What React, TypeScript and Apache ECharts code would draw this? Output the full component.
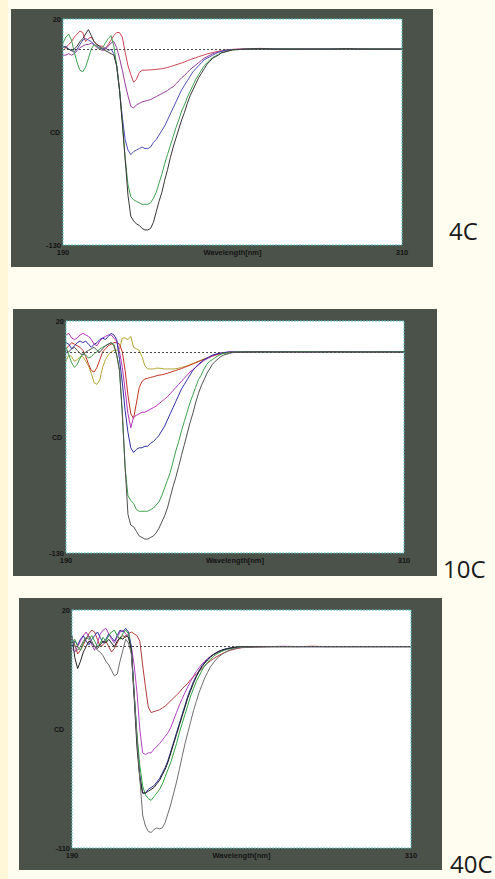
import React, { useEffect, useRef } from "react";
import * as echarts from "echarts";

// Wavelength samples (nm)
const WL = [
  190, 191, 192, 193, 194, 195, 196, 197, 198, 199,
  200, 201, 202, 203, 204, 205, 206, 207, 208, 209,
  210, 211, 212, 213, 214, 215, 216, 217, 218, 219,
  220, 221, 222, 223, 224, 225, 226, 227, 228, 229,
  230, 231, 232, 233, 234, 235, 236, 237, 238, 239,
  240, 241, 242, 243, 244, 245, 246, 247, 248, 249,
  250,
  255, 260, 265, 270, 275, 280, 285, 290, 295, 300, 305, 310,
];

const X_RANGE = [190, 310];
const Y_RANGE_4C = [-130, 20];
const Y_RANGE_10C = [-130, 20];
const Y_RANGE_40C = [-110, 20];
const TAGS = ["4C", "10C", "40C"];

// ---------- 4C ----------
const P1_RED = [
  -1, 1, 3, 5, 8, 10, 12, 11, 5, 7,
  8, 5, 3, 2, 2, 0, 3, 6, 9, 11,
  11, 8, -2, -11, -17, -22, -20, -15.5, -14, -14,
  -13.8, -13.8, -13.6, -13.4, -13.2, -13, -12.6, -12.2, -11.6, -11,
  -10.4, -9.8, -9.2, -8.5, -7.7, -7, -6.3, -5.7, -5, -4.4,
  -3.8, -3.2, -2.7, -2.2, -1.8, -1.4, -1, -0.8, -0.5, -0.3,
  -0.2,
  0.3, 0.5, 0.2, 0, 0, 0.2, 0, 0, 0.3, 0, 0.2, 0,
];
const P1_PURPLE = [
  -4, -4, -3, -4, -3, -1, 1, 2, 3, 3,
  4, 3, 1, 0, -1, 0, 2, 4, 5, 1,
  -6, -14, -23, -31, -38, -39, -37, -36, -35, -34.5,
  -34, -33.5, -32.5, -31.5, -30.5, -29.5, -28.5, -27.5, -26, -25,
  -23, -21, -19, -17.5, -15.5, -13.5, -12, -10.5, -9, -7.5,
  -6, -5, -4, -3, -2.5, -2, -1.5, -1, -0.6, -0.4,
  -0.2,
  0, 0.3, 0, 0, 0.2, 0, 0, 0, 0.2, 0, 0, 0,
];
const P1_BLUE = [
  1, 2, 0, -1, -2, 0, 3, 6, 7, 6,
  5, 3, 2, 1, 0, 1, -1, 0, -3, -11,
  -27, -45, -60, -67, -70, -68, -67, -66, -65, -66,
  -66, -65, -62, -60, -57, -54, -51, -47, -43, -39,
  -35, -31, -27, -24, -21, -18, -15, -13, -11, -9,
  -7, -6, -5, -4, -3, -2, -1.5, -1, -0.7, -0.5,
  -0.3,
  0, 0, 0.2, 0, 0, 0, 0.2, 0, 0, 0, 0, 0,
];
const P1_GREEN = [
  4, 8, 10, 6, -2, -9, -14, -15, -12, -6,
  0, 3, 2, 0, 1, 4, 7, 9, 2, -11,
  -27, -49, -72, -90, -98, -100, -101, -102, -103, -103,
  -103, -102, -99, -95, -89, -83, -76, -70, -64, -58,
  -52, -47, -41, -37, -32, -28, -24, -20, -17, -14,
  -11, -9, -7, -5.5, -4.5, -3.5, -2.5, -2, -1.5, -1,
  -0.5,
  0, 0, 0, 0.2, 0, 0, 0, 0, 0, 0.2, 0, 0,
];
const P1_BLACK = [
  2, 1, 0, -1, 0, 2, 5, 7, 10, 13,
  9, 5, 3, 2, 0, -1, -2, -3, -4, -11,
  -27, -49, -73, -97, -111, -114, -116, -117, -119, -120,
  -120, -119, -115, -108, -101, -95, -87, -80, -72, -65,
  -59, -53, -47, -42, -36, -31, -27, -23, -19, -16,
  -13, -10, -8, -6, -5, -4, -2.5, -2, -1.5, -1,
  -0.5,
  0, 0.3, 0, 0, 0, 0, 0, 0.3, 0, 0, 0, 0,
];

// ---------- 10C ----------
const P2_YELLOW = [
  -6, -2, -3, -6, -5, -3, -3, -6, -9, -14,
  -20, -21, -18, -10, -5, -2, 0, 1, 1, 2,
  9, 9, 8, 10, 3, 2, 1, -3, -9, -11,
  -11, -11, -10.5, -10.5, -10.7, -11, -11, -11, -11, -10.8,
  -10.5, -10, -9.5, -9, -8.3, -7.5, -6.8, -6, -5.3, -4.6,
  -4, -3.3, -2.7, -2.1, -1.6, -1.2, -0.9, -0.6, -0.4, -0.2,
  0,
  0.2, 0, 0, 0, 0.3, 0, 0, 0, 0, 0.2, 0, 0,
];
const P2_RED = [
  2, 4, 6, 5, 4, 3, 1, -3, -8, -12,
  -13, -10, -5, 0, 2, 4, 5, 6, 6, 5,
  0, -12, -28, -40, -43, -33, -23, -19, -17.5, -17,
  -16.5, -16, -15.5, -15, -14.8, -14.3, -13.8, -13.2, -12.5, -12,
  -11.3, -10.8, -10, -9.3, -8.5, -7.8, -7, -6.3, -5.5, -4.8,
  -4, -3.3, -2.6, -2, -1.5, -1, -0.7, -0.4, -0.2, 0,
  0,
  0, 0.2, 0, 0, 0, 0.3, 0, 0.2, 0, 0, 0, 0,
];
const P2_PURPLE = [
  11, 12, 9, 8, 9, 11, 12, 11, 10, 8,
  5, 4, 7, 9, 10, 11, 11, 9, 7, 0,
  -10, -25, -40, -49, -42, -41, -40, -39, -39, -38,
  -37, -36, -35, -33.5, -32, -30.5, -29, -27, -25, -23,
  -21, -19, -17, -15, -13, -11.5, -10, -8.5, -7, -5.5,
  -4.5, -3.5, -2.5, -1.8, -1.2, -0.8, -0.5, -0.3, 0, 0,
  0,
  0, 0, 0.2, 0, 0, 0, 0, 0, 0.3, 0, 0, 0,
];
const P2_BLUE = [
  6, 5, 2, 4, 6, 7, 6, 7, 5, 3,
  5, 6, 8, 9, 8, 10, 12, 11, 8, -5,
  -20, -38, -52, -62, -65, -63, -62, -62, -61, -61,
  -59, -58, -56, -54, -51, -48, -44, -40, -36, -32,
  -28, -24, -21, -18, -15, -12, -10, -8, -6.5, -5,
  -4, -3, -2, -1.5, -1, -0.7, -0.4, -0.2, 0, 0,
  0,
  0, 0, 0, 0.2, 0, 0, 0, 0, 0, 0, 0.2, 0,
];
const P2_GREEN = [
  3, -2, -7, -10, -8, -4, -1, -2, -4, -3,
  -1, 0, 2, 3, 4, 5, 6, 5, -2, -12,
  -40, -75, -93, -96, -98, -102, -103, -103, -103, -103,
  -102, -101, -99, -97, -93, -88, -83, -78, -71, -64,
  -58, -51, -45, -39, -33, -28, -23, -18, -15, -11,
  -8, -6, -5, -3.5, -2.5, -1.5, -1, -0.7, -0.4, -0.2,
  0,
  0, 0, 0, 0, 0.2, 0, 0, 0, 0, 0, 0, 0.2,
];
const P2_BLACK = [
  1, 0, 2, 3, 1, -1, -2, 0, 1, 2,
  3, 1, 0, 2, 4, 5, 6, 4, -2, -12,
  -40, -75, -105, -112, -113, -116, -119, -120, -121, -121,
  -120, -119, -117, -114, -110, -106, -101, -94, -87, -81,
  -74, -67, -60, -53, -46, -40, -33, -27, -22, -18,
  -14, -11, -8, -6, -4.5, -3, -2, -1.5, -1, -0.5,
  -0.3,
  0, 0.2, 0, 0, 0, 0, 0.3, 0, 0, 0, 0, 0,
];

// ---------- 40C ----------
const P3_RED = [
  4, 1, -4, -2, 1, 4, 7, 9, 8, 4,
  0, 1, 3, 0, -3, -1, 2, 5, 6, 5,
  7, 8, 7, 6, 3, -10, -22, -33, -36, -35.5,
  -35, -34.5, -33.5, -32.5, -31, -29.5, -28, -26.5, -25, -23,
  -21.5, -20, -18, -16.5, -15, -13.5, -12, -10.5, -9, -7.8,
  -6.7, -5.7, -4.8, -4, -3.3, -2.6, -2, -1.6, -1.2, -0.9,
  -0.6,
  -0.2, 0, 0, 0, 0.2, 0, 0, 0, 0, 0, 0, 0,
];
const P3_MAGENTA = [
  -1, -3, 0, 3, 6, 8, 5, 1, -2, 2,
  7, 9, 10, 7, 4, 2, 5, 8, 9, 7,
  5, 0, -10, -25, -45, -58, -59, -58, -58, -56,
  -54.5, -53, -51, -49, -47, -44, -40, -36, -32, -28.5,
  -25, -22, -19, -16, -13.6, -11.5, -9.5, -8, -6.5, -5.3,
  -4.4, -3.6, -2.9, -2.3, -1.8, -1.4, -1, -0.7, -0.5, -0.3,
  -0.2,
  0, 0, 0.2, 0, 0, 0, 0, 0, 0, 0, 0, 0,
];
const P3_BLUE = [
  0, 3, 1, 4, 6, 3, 1, 4, 6, 8,
  5, 2, 4, 7, 5, 3, 6, 9, 8, 10,
  8, 0, -25, -50, -70, -80, -80, -78, -77, -76,
  -74, -72, -69, -66, -62, -57, -52, -47, -42, -37,
  -32, -27, -23, -19, -16, -13, -10.5, -8.5, -7, -5.5,
  -4.3, -3.3, -2.5, -1.9, -1.4, -1, -0.7, -0.5, -0.3, -0.2,
  -0.1,
  0, 0, 0, 0, 0, 0, 0, 0, 0, 0, 0, 0,
];
const P3_GREEN = [
  2, 4, 0, -2, 2, 5, 4, 6, 3, 0,
  2, 5, 3, 6, 8, 9, 6, 4, 7, 9,
  7, -2, -25, -48, -65, -76, -81, -83, -84, -82,
  -80, -78, -75, -71, -67, -63, -58, -53, -47, -42,
  -37, -32, -27, -23, -19, -16, -13, -10.5, -8.5, -7,
  -5.5, -4.3, -3.4, -2.6, -2, -1.5, -1.1, -0.8, -0.5, -0.3,
  -0.2,
  0, 0, 0, 0, 0, 0, 0, 0, 0, 0, 0, 0,
];
const P3_BLACK = [
  6, -6, -12, -8, -3, 0, 3, 2, 0, -1,
  1, 3, 2, 4, 2, 0, 3, 5, 4, 6,
  5, -2, -28, -55, -72, -80, -80, -79, -78, -77,
  -75, -73, -70, -67, -63, -58, -53, -48, -43, -38,
  -33, -28, -24, -20, -16.5, -13.5, -11, -9, -7.3, -5.8,
  -4.5, -3.5, -2.7, -2, -1.5, -1.1, -0.8, -0.5, -0.3, -0.2,
  -0.1,
  0, 0, 0, 0, 0, 0, 0, 0, 0, 0, 0, 0,
];
const P3_GRAY = [
  5, 0, -2, 0, 3, 5, 6, 3, 0, -2,
  -3, -5, -8, -10, -13, -16, -15, -8, -2, 4,
  2, -4, -26, -50, -72, -92, -98, -101, -101.5, -100,
  -99, -99.5, -99, -96, -91, -86, -80, -74, -67, -60,
  -53, -47, -41, -35, -30, -25, -21, -17, -14, -11,
  -9, -7, -5.5, -4.3, -3.3, -2.5, -1.8, -1.3, -1, -0.7,
  -0.5,
  -0.2, 0, 0, 0, 0, 0, 0, 0, 0, 0, 0, 0,
];

const PANEL_SERIES = [
  [
    { vals: P1_RED, color: "#cc4454" },
    { vals: P1_PURPLE, color: "#9a3c9e" },
    { vals: P1_BLUE, color: "#4e4eb4" },
    { vals: P1_GREEN, color: "#3fa04e" },
    { vals: P1_BLACK, color: "#3a3434" },
  ],
  [
    { vals: P2_YELLOW, color: "#b2a632" },
    { vals: P2_RED, color: "#c23222" },
    { vals: P2_PURPLE, color: "#b232b8" },
    { vals: P2_BLUE, color: "#2f2fa2" },
    { vals: P2_GREEN, color: "#3fa04e" },
    { vals: P2_BLACK, color: "#505050" },
  ],
  [
    { vals: P3_RED, color: "#b03a3a" },
    { vals: P3_MAGENTA, color: "#b442c2" },
    { vals: P3_BLUE, color: "#30309a" },
    { vals: P3_GREEN, color: "#2fa040" },
    { vals: P3_BLACK, color: "#222222" },
    { vals: P3_GRAY, color: "#6e6e6e" },
  ],
];
const Y_RANGES = [Y_RANGE_4C, Y_RANGE_10C, Y_RANGE_40C];

const LAYOUT = [
  { frame: [11, 9, 422, 258], grid: [63, 19, 339, 226], cdX: 60, tag: [449, 230] },
  { frame: [13, 309, 424, 267], grid: [66, 321, 338, 232], cdX: 62, tag: [443, 568] },
  { frame: [19, 598, 423, 272], grid: [72, 610, 339, 238], cdX: 64, tag: [450, 863] },
];

const FRAME = "#4b5249";
const BG = "#fffdf0";
const LABEL_FONT = '"Liberation Sans", Arial, sans-serif';

export default function App() {
  const ref = useRef<HTMLDivElement>(null);

  useEffect(() => {
    if (!ref.current) return;
    document.body.style.background = BG;
    const chart = echarts.init(ref.current, undefined, { renderer: "svg" });

    const grids: any[] = [];
    const xAxes: any[] = [];
    const yAxes: any[] = [];
    const series: any[] = [];
    const graphic: any[] = [
      { type: "rect", shape: { x: 0, y: 0, width: 8, height: 879 }, style: { fill: "#fff7d8" }, z: 0, silent: true },
    ];

    LAYOUT.forEach((L, i) => {
      const [gl, gt, gw, gh] = L.grid;
      const [fx, fy, fw, fh] = L.frame;
      grids.push({ left: gl, top: gt, width: gw, height: gh, show: false, containLabel: false });
      const labelCommon = {
        show: true,
        fontSize: 7.5,
        fontWeight: "bold",
        color: "#141414",
        fontFamily: LABEL_FONT,
        showMinLabel: true,
        showMaxLabel: true,
      };
      xAxes.push({
        type: "value",
        gridIndex: i,
        min: X_RANGE[0],
        max: X_RANGE[1],
        interval: X_RANGE[1] - X_RANGE[0],
        axisLine: { show: false },
        axisTick: { show: false },
        splitLine: { show: false },
        axisLabel: { ...labelCommon, margin: 3 },
        z: 10,
      });
      const yr = Y_RANGES[i];
      yAxes.push({
        type: "value",
        gridIndex: i,
        min: yr[0],
        max: yr[1],
        interval: yr[1] - yr[0],
        axisLine: { show: false },
        axisTick: { show: false },
        splitLine: { show: false },
        axisLabel: { ...labelCommon, margin: 2 },
        z: 10,
      });

      PANEL_SERIES[i].forEach((s, k) => {
        const ser: any = {
          type: "line",
          xAxisIndex: i,
          yAxisIndex: i,
          data: WL.map((w, j) => [w, s.vals[j]]),
          showSymbol: false,
          symbol: "none",
          silent: true,
          lineStyle: { width: 1, color: s.color },
          itemStyle: { color: s.color },
          emphasis: { disabled: true },
          z: 3,
        };
        if (k === 0) {
          ser.markLine = {
            silent: true,
            symbol: ["none", "none"],
            label: { show: false },
            lineStyle: { color: "#4a4a4a", width: 1, type: [2, 2] },
            data: [{ yAxis: 0 }],
            animation: false,
          };
        }
        series.push(ser);
      });

      graphic.push(
        { type: "rect", shape: { x: fx, y: fy, width: fw, height: fh }, style: { fill: FRAME }, z: 0, silent: true },
        { type: "rect", shape: { x: gl, y: gt, width: gw, height: gh }, style: { fill: "#ffffff" }, z: 1, silent: true },
        {
          type: "rect",
          shape: { x: gl, y: gt, width: gw, height: gh },
          style: { fill: "none", stroke: "#5fc4c4", lineWidth: 1, lineDash: [2, 1] },
          z: 10,
          silent: true,
        },
        {
          type: "text",
          x: L.cdX,
          y: gt + gh / 2,
          style: {
            text: "CD",
            font: `bold 7px ${LABEL_FONT}`,
            fill: "#141414",
            align: "right",
            verticalAlign: "middle",
            textAlign: "right",
            textVerticalAlign: "middle",
          },
          z: 10,
          silent: true,
        },
        {
          type: "text",
          x: gl + gw / 2,
          y: gt + gh + 7,
          style: {
            text: "Wavelength[nm]",
            font: `bold 7.5px ${LABEL_FONT}`,
            fill: "#141414",
            align: "center",
            verticalAlign: "middle",
            textAlign: "center",
            textVerticalAlign: "middle",
          },
          z: 10,
          silent: true,
        },
        {
          type: "text",
          x: L.tag[0],
          y: L.tag[1],
          style: {
            text: TAGS[i],
            font: `24px "Open Sans", "Noto Sans", sans-serif`,
            fill: "#1a1a1a",
            align: "left",
            verticalAlign: "middle",
            textAlign: "left",
            textVerticalAlign: "middle",
          },
          z: 10,
          silent: true,
        }
      );
    });

    chart.setOption({
      animation: false,
      backgroundColor: BG,
      grid: grids,
      xAxis: xAxes,
      yAxis: yAxes,
      series,
      graphic: { elements: graphic },
    });

    return () => chart.dispose();
  }, []);

  return (
    <div
      ref={ref}
      style={{ position: "fixed", left: 0, top: 0, width: 495, height: 879 }}
    />
  );
}
